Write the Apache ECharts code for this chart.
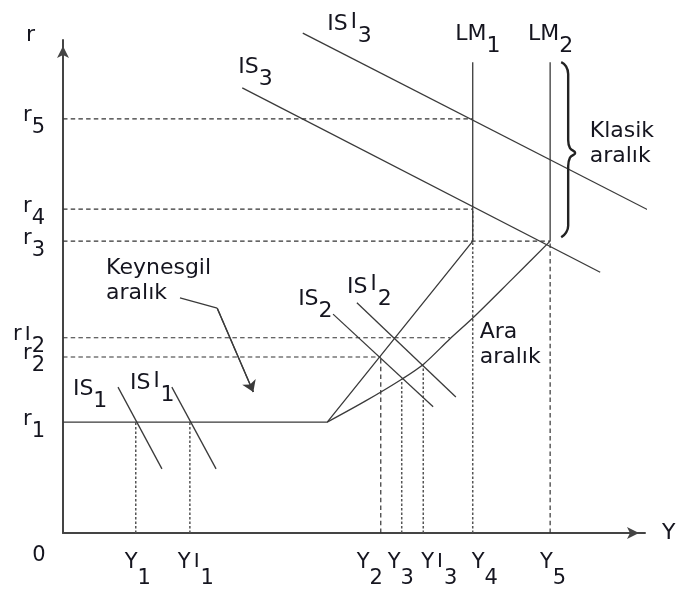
<!DOCTYPE html>
<html><head><meta charset="utf-8">
<script src="https://cdn.jsdelivr.net/npm/echarts@6/dist/echarts.min.js"></script>
<style>html,body{margin:0;padding:0;background:#fff}#c{width:679px;height:590px}</style>
</head><body><div id="c"></div>
<script>
// ---------------- data (axis units: Y 0..100, r 0..100) ----------------
const rTickValues = [22.5, 35.7, 39.6, 59.2, 65.7, 84.0];
const rTickLabels = ["r_1", "r_2", "r'_2", "r_3", "r_4", "r_5"];
const yTickValues = [0, 12.5, 21.8, 54.6, 58.2, 61.9, 70.4, 83.7];
const yTickLabels = ["0", "Y_1", "Y'_1", "Y_2", "Y_3", "Y'_3", "Y_4", "Y_5"];

const LM1 = [[0, 22.5], [45.4, 22.5], [70.4, 59.2], [70.4, 95.5]];
const LM2curve = [[45.4, 22.5], [52.0, 26.8], [58.2, 31.2], [62.0, 34.3], [66.5, 39.4], [70.4, 43.6], [77.0, 51.3], [83.7, 59.2]];
const LM2vertical = [[83.7, 59.2], [83.7, 95.5]];

const IS1 = [[9.45, 29.6], [17.0, 13.0]];
const IS1p = [[18.7, 29.6], [26.3, 13.0]];
const IS2 = [[46.4, 44.4], [63.6, 25.6]];
const IS2p = [[50.5, 46.7], [67.5, 27.6]];
const IS3 = [[30.8, 90.3], [92.3, 52.9]];
const IS3p = [[41.2, 101.4], [102.9, 64.1]];

// horizontal guide lines: level and where they stop
const rGuideLevels = [35.7, 39.6, 59.2, 65.7, 84.0];
const rGuideEnds = [54.6, 66.5, 83.7, 70.4, 70.4];
// vertical guide lines: position and top
const yGuideX = [12.5, 21.8, 54.6, 58.2, 61.9, 70.4, 83.7];
const yGuideTop = [22.5, 22.5, 35.7, 31.2, 33.9, 65.7, 59.2];

const keynesArrow = [[20.1, 47.7], [26.5, 45.6], [32.7, 28.6]];
const classicBrace = [[85.6, 95.5], [86.4, 94.7], [86.8, 93.1], [86.8, 79.7], [87.1, 78.1], [88.0, 77.1],
                      [87.1, 76.1], [86.8, 74.4], [86.8, 62.3], [86.4, 60.9], [85.6, 60.0]];

const annotationTexts = ["IS'_3", "IS_3", "LM_1", "LM_2", "Klasik\naralık", "Keynesgil\naralık",
                         "Ara\naralık", "IS_2", "IS'_2", "IS_1", "IS'_1"];
const annotationAnchors = [[45.4, 102.6], [30.1, 93.9], [67.4, 100.6], [79.9, 100.6], [90.5, 79.5],
                           [7.4, 51.8], [71.6, 38.7], [40.4, 46.9], [48.8, 49.3], [1.7, 28.5], [11.5, 29.8]];

// ---------------- styling ----------------
const FONT = 'DejaVu Sans';
const INK = '#15151f';
const LINE = '#3a3a3a';
const dottedIdx = [0, 1, 3, 4, 5];
const xLabelShift = [-24, 2, 6, -11, -1, 16, 12, 3];

function toRich(str) {
  if (str.indexOf('\n') >= 0) return str.split('\n').map(s => '{txt|' + s + '}').join('\n');
  const parts = str.split('_');
  let head = parts[0];
  let prime = false;
  if (head.endsWith("'")) { prime = true; head = head.slice(0, -1); }
  let out = '{base|' + head + '}';
  if (prime) out += '{pri|I}';
  if (parts.length > 1) out += '{sub|' + parts[1] + '}';
  return out;
}
function richSet(fs, top, D, raise) {
  const t = {fontFamily: FONT, fontSize: fs, color: INK, verticalAlign: 'middle'};
  return {
    base: Object.assign({}, t, {padding: [top, 0, D, 0]}),
    pri: Object.assign({}, t, {fontSize: fs - 1, padding: [top - raise, 1, D + raise, 3]}),
    sub: Object.assign({}, t, {padding: [top + D, 0, 0, 0]}),
    zero: Object.assign({}, t, {padding: [0, 0, top + D, 0]}),
    txt: Object.assign({}, t, {lineHeight: 25})
  };
}

const TICK_FS = 21;
const NOTE_FS = 22;
const xRich = richSet(TICK_FS, 7, 16, 1);
xLabelShift.forEach((s, i) => { xRich['g' + i] = {width: 2 * Math.abs(s), padding: [0, 0, 23, 0], fontSize: TICK_FS}; });
function fmtX(v) {
  const i = yTickValues.indexOf(v);
  if (i < 0) return '';
  const lab = yTickLabels[i];
  const core = lab === '0' ? '{zero|0}' : toRich(lab);
  const s = xLabelShift[i];
  const sp = '{g' + i + '|}';
  return s > 0 ? sp + core : (s < 0 ? core + sp : core);
}
const yRich = richSet(TICK_FS, 6, 12, 0);
function fmtY(v) {
  const i = rTickValues.indexOf(v);
  return i < 0 ? '' : toRich(rTickLabels[i]);
}

function line(data, style, extra) {
  return Object.assign({type: 'line', data: data, symbol: 'none', clip: false, silent: true,
    animation: false, lineStyle: style, z: 3}, extra || {});
}
const solid = {color: LINE, width: 1.3};
const dashed = {color: '#333', width: 1.2, type: [4.5, 3.2]};
const dotted = {color: '#555', width: 1.5, type: [2.5, 2]};

const series = [];
rGuideLevels.forEach((lv, i) => series.push(line([[0, lv], [rGuideEnds[i], lv]], dashed)));
yGuideX.forEach((x, i) => series.push(line([[x, 0], [x, yGuideTop[i]]], dottedIdx.includes(i) ? dotted : dashed)));
[IS1, IS1p, IS2, IS2p, IS3, IS3p, LM1, LM2vertical].forEach(d => series.push(line(d, solid)));
series.push(line(LM2curve, solid, {smooth: 0.3}));
series.push(line(keynesArrow.slice(0, 2), solid));
series.push(line(keynesArrow.slice(1), solid, {
  markLine: {silent: true, animation: false, symbol: ['none', 'arrow'], symbolSize: 11,
    lineStyle: {color: LINE, width: 1.3, type: 'solid'}, label: {show: false},
    data: [[{coord: keynesArrow[1]}, {coord: keynesArrow[2]}]]}
}));
series.push(line(classicBrace, {color: '#222', width: 2.4}, {smooth: 0.5}));
series.push({
  type: 'scatter', silent: true, animation: false, clip: false, symbolSize: 1,
  itemStyle: {color: 'rgba(255,255,255,0)', opacity: 1}, z: 5,
  label: {show: true, position: 'inside', align: 'left', verticalAlign: 'middle', offset: [0, 3],
    color: INK, opacity: 1, fontFamily: FONT, fontSize: NOTE_FS, textBorderWidth: 0,
    formatter: p => toRich(annotationTexts[p.dataIndex]), rich: richSet(NOTE_FS, 0, 12, 2)},
  data: annotationAnchors
});

const chart = echarts.init(document.getElementById('c'), null, {renderer: 'canvas'});
chart.setOption({
  animation: false,
  backgroundColor: '#fff',
  grid: {left: 63, right: 34, top: 40, bottom: 57, outerBoundsMode: 'none', containLabel: false},
  xAxis: {
    type: 'value', min: 0, max: 100,
    axisLine: {show: true, onZero: false, symbol: ['none', 'arrow'], symbolSize: [9, 12], symbolOffset: [0, -6],
      lineStyle: {color: '#444', width: 2}},
    axisTick: {show: false}, splitLine: {show: false},
    axisLabel: {customValues: yTickValues, margin: 12, formatter: fmtX, rich: xRich, hideOverlap: false,
      color: INK, fontFamily: FONT, fontSize: TICK_FS},
    name: 'Y', nameLocation: 'end', nameGap: 17,
    nameTextStyle: {fontFamily: FONT, fontSize: 22, color: INK, align: 'left', verticalAlign: 'middle', padding: [24, 0, 0, 0]}
  },
  yAxis: {
    type: 'value', min: 0, max: 100,
    axisLine: {show: true, onZero: false, symbol: ['none', 'arrow'], symbolSize: [9, 12], symbolOffset: [0, -6],
      lineStyle: {color: '#444', width: 2}},
    axisTick: {show: false}, splitLine: {show: false},
    axisLabel: {customValues: rTickValues, margin: 18, formatter: fmtY, rich: yRich, hideOverlap: false,
      color: INK, fontFamily: FONT, fontSize: TICK_FS},
    name: 'r', nameLocation: 'end', nameGap: -6,
    nameTextStyle: {fontFamily: FONT, fontSize: 22, color: INK, align: 'right', verticalAlign: 'bottom', padding: [0, 28, 0, 0]}
  },
  series: series
});
</script></body></html>
